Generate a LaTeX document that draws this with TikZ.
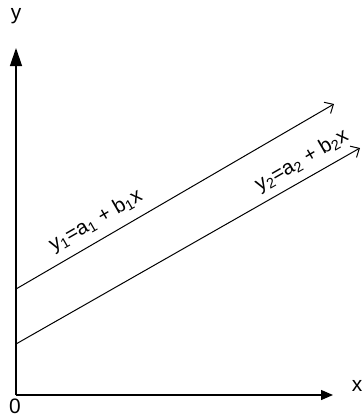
\documentclass[tikz,border=0pt]{standalone}
\usepackage{fontspec}
\setmainfont{Liberation Sans}
\usetikzlibrary{arrows.meta}
\begin{document}
\begin{tikzpicture}[x=1bp,y=-1bp,
  axis/.style={line width=1.3bp},
  fline/.style={line width=1bp,-{Straight Barb[length=7bp,width=13bp,line width=1bp]}},
  lbl/.style={font=\fontsize{21}{22}\selectfont, inner sep=0pt},
  eqlbl/.style={font=\fontsize{20.5}{21}\selectfont, inner sep=0pt, rotate=30}]
\useasboundingbox (0,0) rectangle (364,417);
\coordinate (O) at (16,395);
\coordinate (Ytip) at (16,48);
\coordinate (Xtip) at (333,395);
\draw[axis,-{Triangle[length=18bp,width=12bp]}] (O) -- (Ytip);
\draw[axis,-{Triangle[length=12bp,width=10bp]}] (O) -- (Xtip);
\node[lbl] (ylab) at (16,16) {y};
\node[lbl] (xlab) at (357,386) {x};
\node[lbl] (zero) at (15,406) {0};
\coordinate (A1) at (16,289);
\coordinate (B1) at (334,104);
\coordinate (A2) at (16,344);
\coordinate (B2) at (360,148);
\draw[fline] (A1) -- (B1);
\draw[fline] (A2) -- (B2);
\node[eqlbl] (eq1) at (96,221) {y\textsubscript{1}=a\textsubscript{1} + b\textsubscript{1}x};
\node[eqlbl] (eq2) at (302,161) {y\textsubscript{2}=a\textsubscript{2} + b\textsubscript{2}x};
\end{tikzpicture}
\end{document}
